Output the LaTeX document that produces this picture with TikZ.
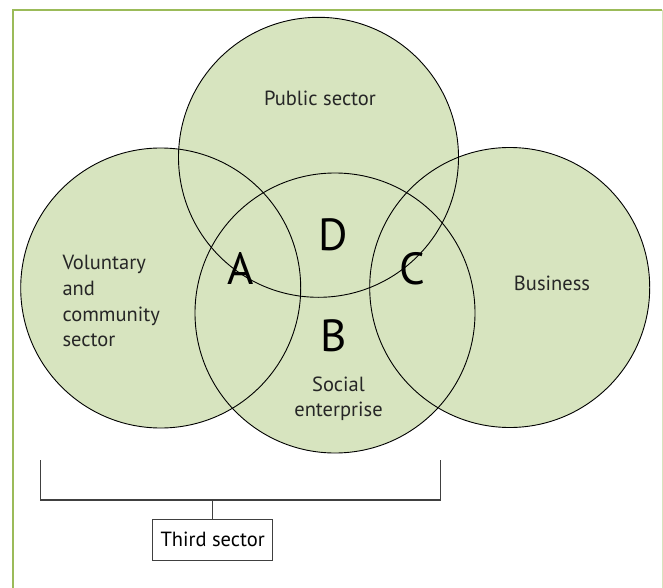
\documentclass[tikz,border=0pt]{standalone}
\usepackage{fontspec}
\setmainfont{PT Sans}
\usepackage{xcolor}
\usetikzlibrary{positioning, calc}

\definecolor{framegreen}{HTML}{9BBB59}
\definecolor{sectorfill}{HTML}{D7E4BF}
\definecolor{linegray}{HTML}{404040}

\begin{document}
\begin{tikzpicture}[
    x=1pt, y=-1pt,
    sector/.style={circle, minimum size=280pt, inner sep=0pt, fill=sectorfill},
    rim/.style={draw=black, line width=0.9pt},
    label/.style={font=\fontsize{20.5}{25.7}\selectfont, text=black!85, inner sep=0pt},
    region/.style={font=\fontsize{45}{45}\selectfont, inner sep=0pt},
    bracket/.style={draw=linegray, line width=1.3pt},
    box/.style={draw=linegray, line width=1.1pt, minimum width=120pt, minimum height=40.7pt, inner sep=0pt, font=\fontsize{20.5}{24}\selectfont}
]
    \useasboundingbox (0,0) rectangle (663,588);

    % ===============================
    % 1. FRAME
    % ===============================
    \draw[framegreen, line width=2pt] (12.7,600) -- (12.7,10) -- (662,10);
    \draw[framegreen!40, line width=0.8pt] (662,10) -- (662,600);

    % ===============================
    % 2. SECTORS
    % ===============================
    \node[sector] (vol) at (160.7, 288) {};
    \node[sector] (pub) at (318.5, 157.3) {};
    \node[sector] (soc) at (335, 313) {};
    \node[sector] (bus) at (509.7, 287.5) {};

    % outlines on top of all fills
    \foreach \s in {vol, pub, soc, bus}
        \draw[rim] (\s.center) circle[radius=140pt];

    % sector names (base = last line for the wrapped ones)
    \node[label, anchor=base] (pubtxt) at (320, 106) {Public sector};
    \node[label, anchor=base] (bustxt) at (552, 290.7) {Business};
    \node[label, anchor=base west, align=left] (voltxt) at (62.3, 346.7) {Voluntary\\and\\community\\sector};
    \node[label, anchor=base, align=center] (soctxt) at (338.5, 416.7) {Social\\enterprise};

    % overlap letters
    \node[region] (A) at (241, 269) {A};
    \node[region] (D) at (333.3, 234.5) {D};
    \node[region] (C) at (412, 269) {C};
    \node[region] (B) at (333.3, 335.8) {B};

    % ===============================
    % 3. THIRD SECTOR BRACKET
    % ===============================
    \coordinate (brl) at (40.7, 460);
    \coordinate (brr) at (440.7, 460);
    \coordinate (brm) at (212.7, 500);
    \draw[bracket] (brl) -- (40.7, 500) -| (brr);

    \node[box] (third) at (212.7, 539.7) {Third sector};
    \draw[bracket] (brm) -- (third.north);

\end{tikzpicture}
\end{document}
